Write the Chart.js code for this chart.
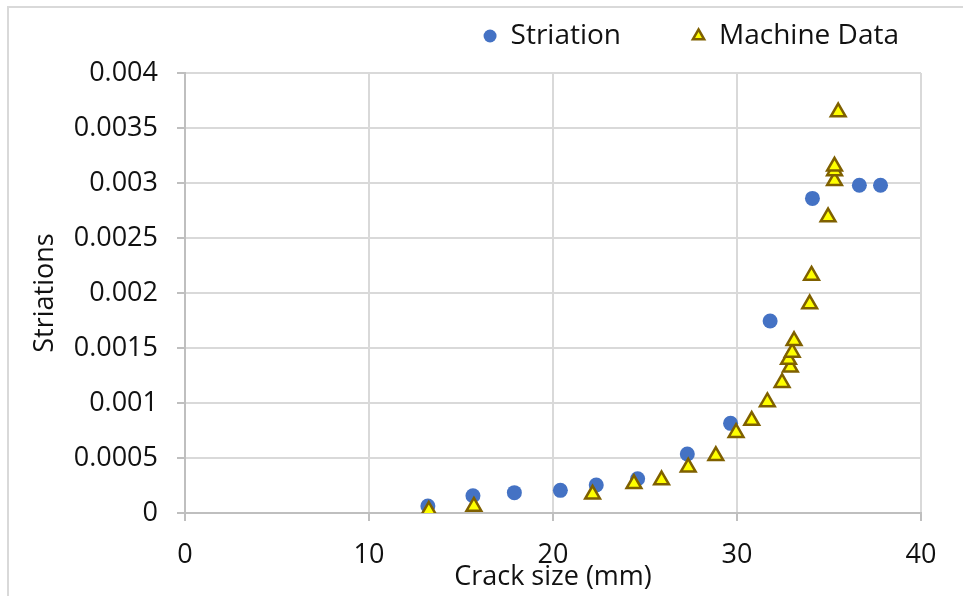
<!DOCTYPE html>
<html>
<head>
<meta charset="utf-8">
<script src="https://cdn.jsdelivr.net/npm/chart.js@4.4.1/dist/chart.umd.min.js"></script>
<style>
  html, body { margin: 0; padding: 0; background: #fff; overflow: hidden; }
  #wrap { position: relative; width: 963px; height: 596px; }
  #frame { position: absolute; left: 7px; top: 6px; width: 3000px; height: 3000px;
           border: 2px solid #d9d9d9; box-sizing: border-box; }
  #c { position: absolute; left: 0; top: 0; }
</style>
</head>
<body>
<div id="wrap">
  <div id="frame"></div>
  <canvas id="c" width="963" height="596"></canvas>
</div>
<script>
// Striation measurements: crack size (mm) vs striation spacing
const striationX = [13.2, 15.65, 17.9, 20.4, 22.35, 24.6, 27.3, 29.65, 31.8, 34.1, 36.65, 37.8];
const striationY = [0.000064, 0.000157, 0.000185, 0.000206, 0.000255, 0.000312, 0.000536, 0.000815, 0.001745, 0.00286, 0.00298, 0.00298];

// Machine data: crack size (mm) vs growth per cycle
const machineX = [13.25, 15.7, 22.15, 24.4, 25.9, 27.35, 28.85, 29.95, 30.8, 31.65, 32.45, 32.9, 32.8, 33.0, 33.1, 33.95, 34.05, 34.95, 35.3, 35.3, 35.3, 35.5];
const machineY = [0.000022, 0.00006, 0.00017, 0.000265, 0.0003, 0.000415, 0.00052, 0.00073, 0.00084, 0.00101, 0.001185, 0.001325, 0.001395, 0.00146, 0.001565, 0.0019, 0.00216, 0.00269, 0.00302, 0.00311, 0.003152, 0.003645];

const xTickLabels = ['0', '10', '20', '30', '40'];
const yTickLabels = ['0', '0.0005', '0.001', '0.0015', '0.002', '0.0025', '0.003', '0.0035', '0.004'];

const seriesNames = ['Striation', 'Machine Data'];
const xTitle = 'Crack size (mm)';
const yTitle = 'Striations';

const FONT = 'Open Sans';
const TEXT = '#111';
const GRID = '#d9d9d9';
const AXIS = '#bfbfbf';

const toPoints = (xs, ys) => xs.map((x, i) => ({ x: x, y: ys[i] }));

const defaultLabels = Chart.defaults.plugins.legend.labels.generateLabels;

// Keep the legend band a fixed height so the plot area starts right below it
const legendBand = {
  id: 'legendBand',
  beforeUpdate(chart) {
    const lg = chart.legend;
    if (lg && !lg.__bandFixed) {
      const fit = lg.fit;
      lg.fit = function () { fit.call(this); this.height = 73; };
      lg.__bandFixed = true;
    }
  }
};

new Chart(document.getElementById('c'), {
  type: 'scatter',
  plugins: [legendBand],
  data: {
    datasets: [
      {
        label: seriesNames[0],
        data: toPoints(striationX, striationY),
        pointStyle: 'circle',
        pointRadius: 7.5,
        backgroundColor: '#4472C4',
        borderColor: '#4472C4',
        borderWidth: 0,
        order: 1
      },
      {
        label: seriesNames[1],
        data: toPoints(machineX, machineY),
        pointStyle: 'triangle',
        pointRadius: 8.5,
        backgroundColor: '#FFFF00',
        borderColor: '#7F6000',
        borderWidth: 2.5,
        order: 0
      }
    ]
  },
  options: {
    responsive: false,
    animation: false,
    devicePixelRatio: 1,
    layout: { padding: { left: 0, right: 42, top: 0, bottom: 0 } },
    plugins: {
      tooltip: { enabled: false },
      legend: {
        position: 'top',
        align: 'end',
        labels: {
          usePointStyle: true,
          boxWidth: 13,
          boxHeight: 9.2,
          padding: 22,
          color: TEXT,
          font: { family: FONT, size: 28 },
          generateLabels: (chart) => {
            const items = defaultLabels(chart).sort((a, b) => a.datasetIndex - b.datasetIndex);
            // blank gap entry between the two series entries
            const gap = {
              text: '', fillStyle: 'rgba(0,0,0,0)', strokeStyle: 'rgba(0,0,0,0)',
              lineWidth: 0, pointStyle: 'circle', hidden: false, datasetIndex: -1
            };
            return [items[0], gap, items[1]];
          }
        }
      }
    },
    scales: {
      x: {
        type: 'linear',
        min: 0,
        max: 40,
        afterFit: (s) => { s.height = 83; },
        ticks: {
          stepSize: 10,
          padding: 18,
          color: TEXT,
          font: { family: FONT, size: 27 },
          callback: (v) => xTickLabels[Math.round(v / 10)]
        },
        grid: { color: GRID, lineWidth: 2, tickLength: 8, tickColor: AXIS },
        border: { color: AXIS, width: 2 },
        title: {
          display: true,
          text: xTitle,
          color: TEXT,
          font: { family: FONT, size: 27 },
          padding: { top: 0, bottom: 2 }
        }
      },
      y: {
        type: 'linear',
        min: 0,
        max: 0.004,
        afterFit: (s) => { s.width = 185; },
        ticks: {
          stepSize: 0.0005,
          padding: 19,
          color: TEXT,
          font: { family: FONT, size: 27 },
          callback: (v) => yTickLabels[Math.round(v / 0.0005)]
        },
        grid: { color: GRID, lineWidth: 2, tickLength: 8, tickColor: AXIS },
        border: { color: AXIS, width: 2 },
        title: {
          display: true,
          text: yTitle,
          color: TEXT,
          font: { family: FONT, size: 27 },
          padding: { top: 29, bottom: 0 }
        }
      }
    }
  }
});
</script>
</body>
</html>
